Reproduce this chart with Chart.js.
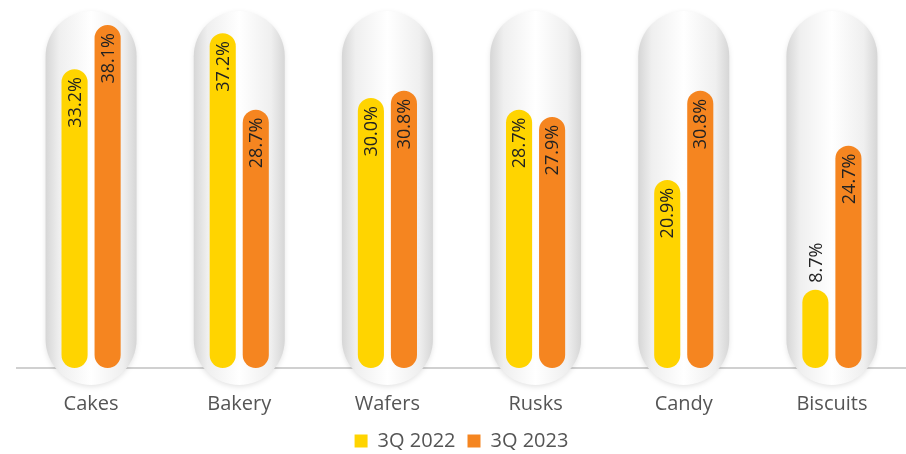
<!DOCTYPE html>
<html>
<head>
<meta charset="utf-8">
<script src="https://cdn.jsdelivr.net/npm/chart.js@4.4.1/dist/chart.umd.min.js"></script>
<style>
html, body { margin: 0; padding: 0; background: #fff; }
#wrap { width: 906px; height: 454px; position: relative; }
</style>
</head>
<body>
<div id="wrap"><canvas id="chart"></canvas></div>
<script>
// --- data ---
const categories = ["Cakes", "Bakery", "Wafers", "Rusks", "Candy", "Biscuits"];
const q2022 = [33.2, 37.2, 30.0, 28.7, 20.9, 8.7];
const q2023 = [38.1, 28.7, 30.8, 27.9, 30.8, 24.7];
const seriesNames = ["3Q 2022", "3Q 2023"];

const YELLOW = "#FFD400";
const ORANGE = "#F58520";
const FONT = "'Open Sans', 'Noto Sans', sans-serif";

// grey capsule behind every category
const pillPlugin = {
  id: "pills",
  beforeDatasetsDraw(chart) {
    const ctx = chart.ctx;
    const x = chart.scales.x;
    const w = 91, top = 11, bottom = 385;
    categories.forEach((c, i) => {
      const cx = x.getPixelForValue(i);
      const left = cx - w / 2;
      ctx.save();
      ctx.shadowColor = "rgba(0,0,0,0.10)";
      ctx.shadowBlur = 5;
      ctx.shadowOffsetY = 2;
      const g = ctx.createLinearGradient(left, 0, left + w, 0);
      g.addColorStop(0, "#d6d6d6");
      g.addColorStop(0.15, "#efefef");
      g.addColorStop(0.5, "#ffffff");
      g.addColorStop(0.85, "#efefef");
      g.addColorStop(1, "#d6d6d6");
      ctx.fillStyle = g;
      ctx.beginPath();
      ctx.roundRect(left, top, w, bottom - top, w / 2);
      ctx.fill();
      ctx.restore();
    });
  }
};

// rotated value labels
const labelPlugin = {
  id: "vlabels",
  afterDatasetsDraw(chart) {
    const ctx = chart.ctx;
    chart.data.datasets.forEach((ds, di) => {
      chart.getDatasetMeta(di).data.forEach((bar, i) => {
        const v = ds.data[i];
        const inside = v >= 10;
        ctx.save();
        ctx.font = "18px " + FONT;
        ctx.fillStyle = "#222";
        ctx.textBaseline = "middle";
        if (inside) {
          ctx.translate(bar.x, bar.y + 8);
          ctx.rotate(-Math.PI / 2);
          ctx.textAlign = "right";
        } else {
          ctx.translate(bar.x, bar.y - 7);
          ctx.rotate(-Math.PI / 2);
          ctx.textAlign = "left";
        }
        ctx.fillText(v.toFixed(1) + "%", 0, 1);
        ctx.restore();
      });
    });
  }
};

new Chart(document.getElementById("chart"), {
  type: "bar",
  data: {
    labels: categories,
    datasets: [
      { label: seriesNames[0], data: q2022, backgroundColor: YELLOW },
      { label: seriesNames[1], data: q2023, backgroundColor: ORANGE }
    ]
  },
  options: {
    responsive: true,
    maintainAspectRatio: false,
    animation: false,
    layout: { padding: { left: 17, right: 0, top: 8, bottom: -7 } },
    datasets: {
      bar: {
        categoryPercentage: 0.446,
        barPercentage: 0.79,
        borderRadius: 13,
        borderSkipped: false
      }
    },
    scales: {
      x: {
        grid: { display: false },
        border: { color: "#d0d0d0", width: 2 },
        ticks: { color: "#555", font: { family: FONT, size: 20 }, padding: 16 },
        afterFit(scale) { scale.height = 51; }
      },
      y: { display: false, min: 0, max: 40 }
    },
    plugins: {
      legend: {
        position: "bottom",
        labels: {
          color: "#555",
          font: { family: FONT, size: 20 },
          boxWidth: 13,
          boxHeight: 13,
          padding: 12
        }
      },
      tooltip: { enabled: false }
    }
  },
  plugins: [pillPlugin, labelPlugin]
});
</script>
</body>
</html>
